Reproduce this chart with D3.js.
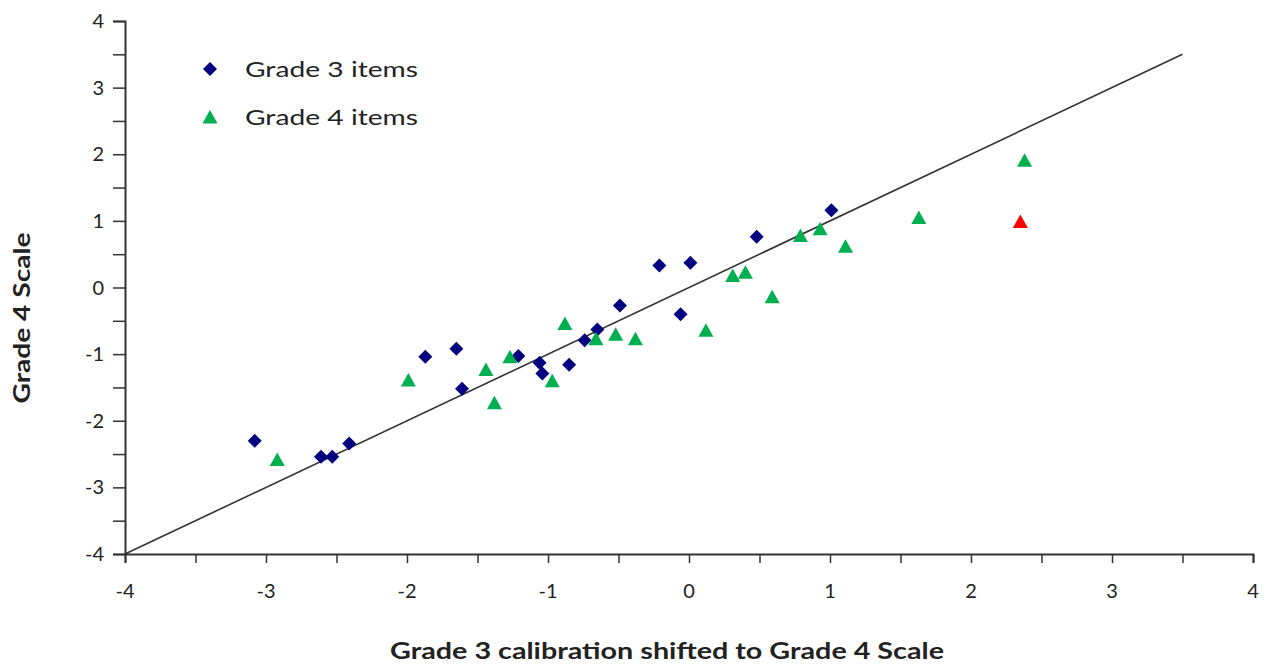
<!DOCTYPE html>
<html><head><meta charset="utf-8">
<script src="https://cdn.jsdelivr.net/npm/d3@7"></script>
<style>html,body{margin:0;padding:0;background:#fff;} svg{display:block;font-family:Lato,"Open Sans",sans-serif;}</style>
</head><body><svg id="c" width="1272" height="668"></svg>
<script>
// Data
const grade3X = [-3.08,-2.61,-2.53,-2.41,-1.87,-1.65,-1.61,-1.21,-1.06,-1.04,-0.85,-0.74,-0.65,-0.49,-0.21,0.01,-0.06,0.48,1.01];
const grade3Y = [-2.30,-2.54,-2.54,-2.34,-1.04,-0.92,-1.52,-1.03,-1.13,-1.29,-1.16,-0.79,-0.63,-0.27,0.33,0.37,-0.40,0.76,1.16];
const grade4X = [-2.92,-1.99,-1.44,-1.38,-1.27,-0.97,-0.88,-0.66,-0.52,-0.38,0.12,0.31,0.40,0.59,0.79,0.93,1.11,1.63,2.38];
const grade4Y = [-2.58,-1.39,-1.23,-1.73,-1.04,-1.40,-0.54,-0.77,-0.70,-0.77,-0.64,0.18,0.23,-0.14,0.78,0.88,0.62,1.05,1.91];
const outlierX = [2.35];
const outlierY = [0.99];
const identityLine = [[-4,-4],[3.5,3.5]];
const tickValues = [-4,-3,-2,-1,0,1,2,3,4];
const minorTicks = [-4,-3.5,-3,-2.5,-2,-1.5,-1,-0.5,0,0.5,1,1.5,2,2.5,3,3.5,4];
const legendLabels = ["Grade 3 items","Grade 4 items"];
const xTitle = "Grade 3 calibration shifted to Grade 4 Scale";
const yTitle = "Grade 4 Scale";

const svg = d3.select("#c");
const x = d3.scaleLinear().domain([-4,4]).range([125,1253]);
const y = d3.scaleLinear().domain([-4,4]).range([554,21]);
const axisColor = "#333";

// axes
const xa = svg.append("g").attr("transform","translate(0,554)")
  .call(d3.axisBottom(x).tickValues(minorTicks).tickSize(9).tickFormat(""));
const ya = svg.append("g").attr("transform","translate(125,0)")
  .call(d3.axisLeft(y).tickValues(minorTicks).tickSize(12).tickFormat(""));
[xa,ya].forEach(g=>{
  g.select(".domain").attr("stroke",axisColor).attr("stroke-width",2);
  g.selectAll(".tick line").attr("stroke",axisColor).attr("stroke-width",1.5);
});
svg.append("g").selectAll("text").data(tickValues).join("text")
  .attr("x",d=>x(d)).attr("y",598).attr("text-anchor","middle")
  .attr("font-size",20).attr("fill","#222").text(d=>d);
svg.append("g").selectAll("text").data(tickValues).join("text")
  .attr("x",104).attr("y",d=>y(d)+7).attr("text-anchor","end")
  .attr("font-size",20).attr("fill","#222").text(d=>d);

// titles
svg.append("text").attr("x",667).attr("y",659).attr("text-anchor","middle")
  .attr("font-size",22).attr("font-weight","bold").attr("fill","#222")
  .attr("textLength",554).attr("lengthAdjust","spacingAndGlyphs").text(xTitle);
svg.append("text").attr("transform","translate(30,318) rotate(-90)").attr("text-anchor","middle")
  .attr("font-size",22).attr("font-weight","bold").attr("fill","#222")
  .attr("textLength",171).attr("lengthAdjust","spacingAndGlyphs").text(yTitle);

// identity line
svg.append("path").datum(identityLine)
  .attr("d",d3.line().x(d=>x(d[0])).y(d=>y(d[1])))
  .attr("stroke","#333").attr("stroke-width",1.6).attr("fill","none");

const diamond = "M0,-7L7,0L0,7L-7,0Z";
const triangle = "M0,-7L7.5,6.5L-7.5,6.5Z";

function pts(xs,ys,path,color){
  svg.append("g").selectAll("path").data(xs.map((v,i)=>[v,ys[i]])).join("path")
    .attr("transform",d=>`translate(${x(d[0])},${y(d[1])})`)
    .attr("d",path).attr("fill",color);
}
pts(grade3X,grade3Y,diamond,"#000080");
pts(grade4X,grade4Y,triangle,"#00B050");
pts(outlierX,outlierY,triangle,"#FF0000");

// legend
const leg = svg.append("g");
leg.append("path").attr("transform","translate(210,69)").attr("d",diamond).attr("fill","#000080");
leg.append("path").attr("transform","translate(210,117)").attr("d",triangle).attr("fill","#00B050");
leg.selectAll("text").data(legendLabels).join("text")
  .attr("x",245).attr("y",(d,i)=>77+i*48).attr("font-size",22).attr("fill","#222")
  .attr("textLength",173).attr("lengthAdjust","spacingAndGlyphs").text(d=>d);
</script></body></html>
